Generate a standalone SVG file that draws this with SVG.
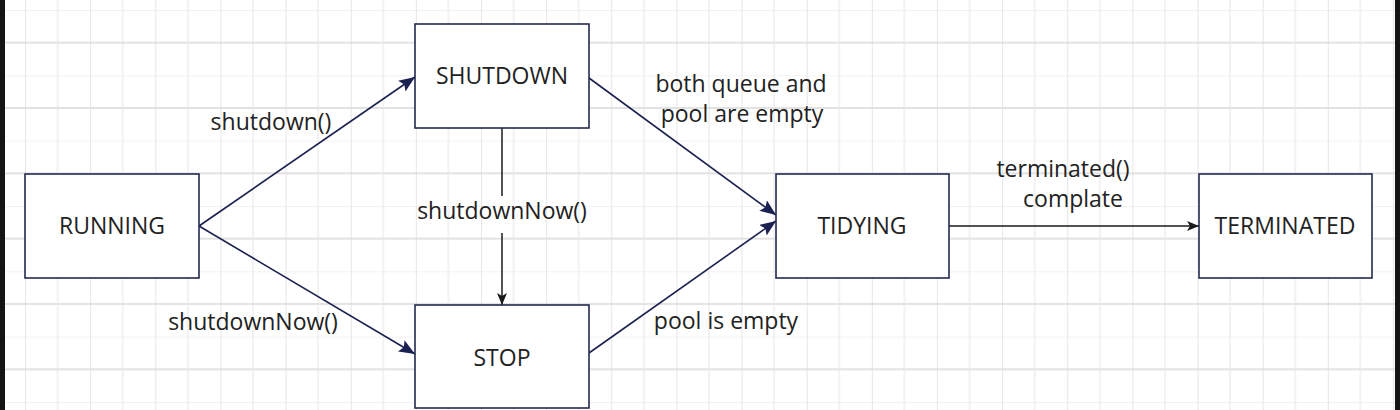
<svg xmlns="http://www.w3.org/2000/svg" width="1400" height="410" viewBox="0 0 1400 410">
  <defs>
    <pattern id="grid" patternUnits="userSpaceOnUse" x="25" y="10" width="65.14" height="65.33">
      <line x1="0" y1="0" x2="65.14" y2="0" stroke="#e6e6e6" stroke-width="1"/>
      <line x1="0" y1="32.67" x2="65.14" y2="32.67" stroke="#d9d9d9" stroke-width="1.3"/>
      <line x1="32.57" y1="0" x2="32.57" y2="65.33" stroke="#e6e6e6" stroke-width="1"/>
      <line x1="0" y1="0" x2="0" y2="65.33" stroke="#d9d9d9" stroke-width="1.3"/>
    </pattern>
    <marker id="navyArrow" markerUnits="userSpaceOnUse" markerWidth="18" markerHeight="14" refX="16" refY="6.5" orient="auto">
      <path d="M0,0 L16,6.5 L0,13 L3,6.5 z" fill="#1b2150"/>
    </marker>
    <marker id="blackArrow" markerUnits="userSpaceOnUse" markerWidth="14" markerHeight="12" refX="12" refY="5" orient="auto">
      <path d="M0,0 L12,5 L0,10 L3,5 z" fill="#1a1a1a"/>
    </marker>
  </defs>
  <style>
    .node rect { fill: #ffffff; stroke: #232a4f; stroke-width: 1.6; }
    .node text, .label { font-family: "Open Sans", "Noto Sans", sans-serif; font-size: 23px; fill: #222222; text-anchor: middle; }
    .navy { stroke: #1b2150; stroke-width: 1.6; fill: none; marker-end: url(#navyArrow); }
    .blk { stroke: #1a1a1a; stroke-width: 1.5; fill: none; }
  </style>
  <rect x="0" y="0" width="1400" height="410" fill="#ffffff"/>
  <rect x="0" y="0" width="1400" height="410" fill="url(#grid)"/>
  <rect x="0" y="0" width="5" height="410" fill="#141414"/>
  <rect x="1395" y="0" width="5" height="410" fill="#141414"/>

  <g id="connectors">
    <line class="navy" x1="199" y1="226" x2="415" y2="77"/>
    <line class="navy" x1="199" y1="226" x2="415" y2="354"/>
    <line class="navy" x1="589" y1="78" x2="776" y2="215"/>
    <line class="navy" x1="589" y1="353" x2="776" y2="221"/>
    <line class="blk" x1="502" y1="128" x2="502" y2="196"/>
    <line class="blk" x1="502" y1="233" x2="502" y2="305" marker-end="url(#blackArrow)"/>
    <line class="blk" x1="949" y1="226" x2="1199" y2="226" marker-end="url(#blackArrow)"/>
  </g>

  <g id="labels">
    <text class="label" x="271" y="130">shutdown()</text>
    <text class="label" x="253" y="330">shutdownNow()</text>
    <text class="label" x="502" y="219">shutdownNow()</text>
    <text class="label" x="741" y="92">both queue and</text>
    <text class="label" x="742" y="122">pool are empty</text>
    <text class="label" x="726" y="329">pool is empty</text>
    <text class="label" x="1063" y="177">terminated()</text>
    <text class="label" x="1073" y="207">complate</text>
  </g>

  <g id="node-running" class="node">
    <rect x="25" y="174" width="174" height="104"/>
    <text x="112" y="234">RUNNING</text>
  </g>
  <g id="node-shutdown" class="node">
    <rect x="415" y="24" width="174" height="104"/>
    <text x="502" y="84">SHUTDOWN</text>
  </g>
  <g id="node-stop" class="node">
    <rect x="415" y="305" width="174" height="103"/>
    <text x="502" y="366">STOP</text>
  </g>
  <g id="node-tidying" class="node">
    <rect x="776" y="174" width="173" height="104"/>
    <text x="862" y="234">TIDYING</text>
  </g>
  <g id="node-terminated" class="node">
    <rect x="1199" y="174" width="173" height="104"/>
    <text x="1285" y="234">TERMINATED</text>
  </g>
</svg>
